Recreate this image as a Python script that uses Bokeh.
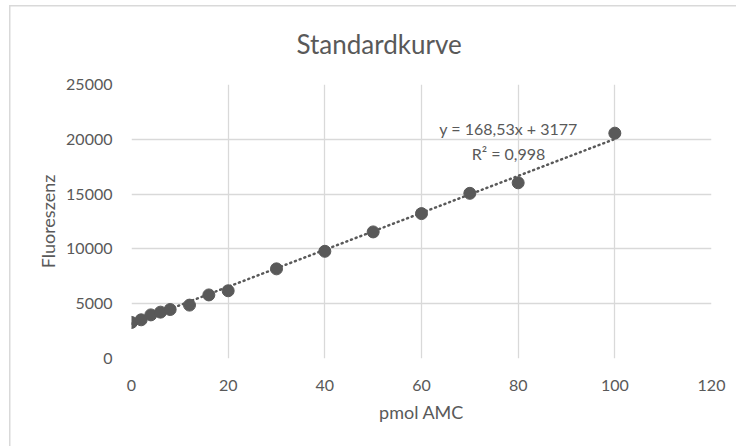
from bokeh.plotting import figure
from bokeh.models import (ColumnDataSource, Range1d, FixedTicker, Label)
from bokeh.embed import file_html
from bokeh.resources import INLINE

# ---- data ----
pmol_amc = [0, 2, 4, 6, 8, 12, 16, 20, 30, 40, 50, 60, 70, 80, 100]
fluoreszenz = [3290, 3530, 3980, 4230, 4470, 4870, 5800, 6180, 8180, 9780, 11550, 13220, 15070, 16030, 20560]
slope = 168.53
intercept = 3177
x_ticks = [0, 20, 40, 60, 80, 100, 120]
y_ticks = [0, 5000, 10000, 15000, 20000, 25000]
title_text = "Standardkurve"
x_label = "pmol AMC"
y_label = "Fluoreszenz"
eq_text = "y = 168,53x + 3177"
r2_text = "R² = 0,998"

FONT = "Lato"
TXT = "#595959"
GRID = "#d9d9d9"

p = figure(width=736, height=446, output_backend="svg", toolbar_location=None,
           x_range=Range1d(0, 120), y_range=Range1d(0, 25000),
           min_border_left=131, min_border_right=25, min_border_top=83, min_border_bottom=88,
           styles={"background-color": "white",
                   "background-image": "linear-gradient(#d9d9d9,#d9d9d9), linear-gradient(#d9d9d9,#d9d9d9)",
                   "background-size": "100% 1.5px, 1.5px 100%",
                   "background-position": "9px 5px, 9px 5px",
                   "background-repeat": "no-repeat"})
p.outline_line_color = None
p.background_fill_color = "white"
p.border_fill_color = None

p.title.text = title_text
p.title.align = "left"
p.title.offset = 165
p.title.text_font = FONT
p.title.text_font_size = "26px"
p.title.text_font_style = "normal"
p.title.text_color = TXT
p.title.vertical_align = "bottom"
p.title.standoff = 50

for ax in (p.xaxis[0], p.yaxis[0]):
    ax.axis_line_color = None
    ax.major_tick_line_color = None
    ax.minor_tick_line_color = None
    ax.major_label_text_color = TXT
    ax.major_label_text_font = FONT
    ax.major_label_text_font_size = "16px"
    ax.axis_label_text_color = TXT
    ax.axis_label_text_font = FONT
    ax.axis_label_text_font_size = "18px"
    ax.axis_label_text_font_style = "normal"

p.xaxis[0].ticker = FixedTicker(ticks=x_ticks)
p.yaxis[0].ticker = FixedTicker(ticks=y_ticks)
p.xaxis[0].major_label_standoff = 15
p.yaxis[0].major_label_standoff = 13
p.xaxis[0].axis_label = x_label
p.yaxis[0].axis_label = y_label
p.xaxis[0].axis_label_standoff = 7
p.yaxis[0].axis_label_standoff = 4

p.xgrid.grid_line_color = GRID
p.ygrid.grid_line_color = GRID
p.xgrid.grid_line_width = 1.3
p.ygrid.grid_line_width = 1.3

# trendline from the stated equation
tx = [0, 100]
ty = [intercept + slope * v for v in tx]
p.line(tx, ty, line_color=TXT, line_width=2.5, line_dash="1 4", line_cap="round")

src = ColumnDataSource(dict(x=pmol_amc, y=fluoreszenz))
p.scatter("x", "y", source=src, size=12, fill_color=TXT, line_color=TXT)

p.add_layout(Label(x=78.0, y=21000, text=eq_text,
                   text_align="center", text_baseline="middle", text_font=FONT,
                   text_font_size="16px", text_color=TXT))
p.add_layout(Label(x=78.0, y=18750, text=r2_text,
                   text_align="center", text_baseline="middle", text_font=FONT,
                   text_font_size="16px", text_color=TXT))

open("out.html", "w").write(file_html(p, INLINE))
